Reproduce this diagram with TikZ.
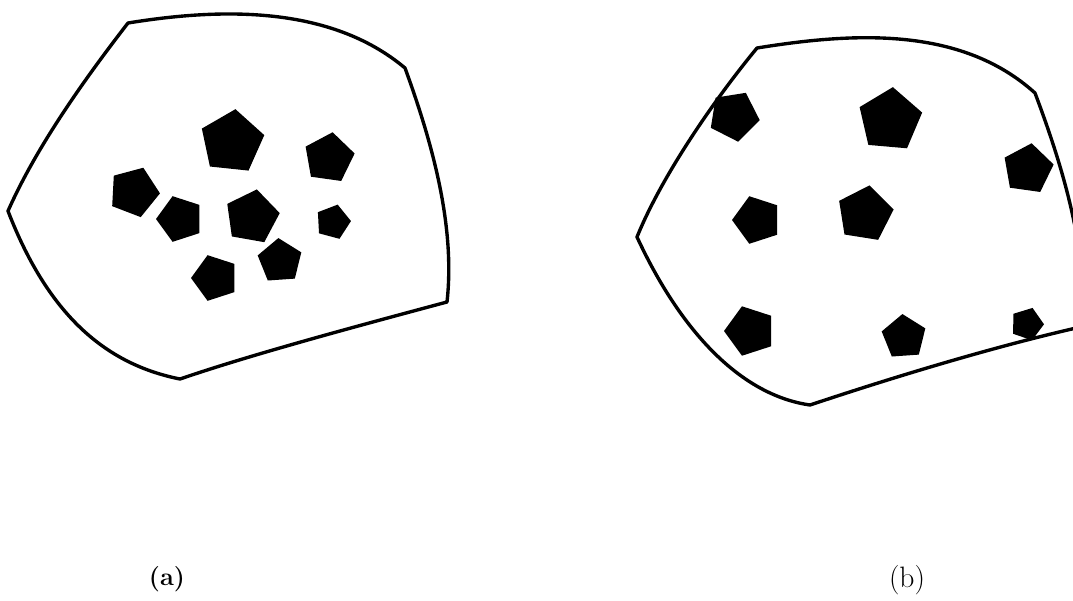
\documentclass[tikz,border=0pt]{standalone}
\usetikzlibrary{shapes.geometric}

\begin{document}
\begin{tikzpicture}[
    x=0.025cm, y=-0.025cm,
    outline/.style={draw=black, line width=2.4pt, line join=round},
    pent/.style={
        regular polygon,
        regular polygon sides=5,
        fill=black,
        inner sep=0pt,
        outer sep=0pt
    },
    caption/.style={font=\fontsize{19}{22}\selectfont}
]

\clip (0,0) rectangle (1073,600);

% region (a)
\draw[outline] (128,23) .. controls (220,8) and (330,5) .. (405,68)
    .. controls (435,150) and (455,230) .. (447,302)
    .. controls (350,328) and (250,355) .. (180,379)
    .. controls (110,365) and (50,320) .. (8,211)
    .. controls (35,150) and (80,85) .. cycle;

\foreach \x/\y/\r/\a [count=\i] in {
    232/142/33/-6, 329/158/26/-8, 134/192/26/-21, 180/219/24/90,
    252/217/28/-10, 333/222/18/-15, 280/261/23/4, 215/278/24/90}
    \node[pent, minimum size=2*\r*0.025cm, rotate=\a] (pa\i) at (\x,\y) {};

% region (b)
\draw[outline] (757,48) .. controls (850,33) and (960,25) .. (1035,93)
    .. controls (1062,165) and (1085,240) .. (1085,326)
    .. controls (1000,345) and (900,375) .. (810,405)
    .. controls (740,395) and (680,330) .. (637,237)
    .. controls (660,180) and (710,105) .. cycle;

\foreach \x/\y/\r/\a [count=\i] in {
    734/116/26/-27, 890/120/33/-5, 1028/169/26/-8, 757/220/25/90,
    865/214/29/-9, 750/331/26/90, 904/337/23/4, 1027/324/17/-19}
    \node[pent, minimum size=2*\r*0.025cm, rotate=\a] (pb\i) at (\x,\y) {};

\node[caption, font=\fontsize{18}{21}\selectfont\bfseries] (capa) at (167,579) {(a)};
\node[caption, font=\fontsize{21}{25}\selectfont] (capb) at (907,580) {(b)};

\end{tikzpicture}
\end{document}
